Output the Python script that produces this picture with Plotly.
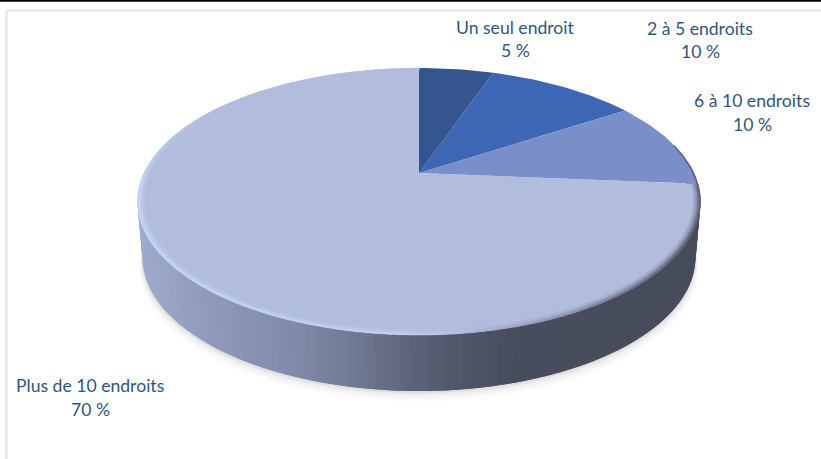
import numpy as np
import plotly.graph_objects as go

labels = ["Un seul endroit", "2 à 5 endroits", "6 à 10 endroits", "Plus de 10 endroits"]
values = [5, 10, 10, 70]
colors = ["#34558f", "#3d66b4", "#7a8fca", "#b2bddd"]

W, H = 821, 459
CX, CY = 419, 173
A, B, K = 127.4, 275.0, 0.2135
DEPTH = 56


def rim(theta, r=1.0, dy=0.0, sx=1.0):
    s, c = np.sin(theta), np.cos(theta)
    w = 1 + K * c * r
    return CX + sx * r * B * s / w, CY - r * A * c / w + dy


def mix(stops, t):
    xs = [p[0] for p in stops]
    return "rgb(%d,%d,%d)" % tuple(
        np.interp(t, xs, [p[1][i] for p in stops]) for i in range(3)
    )


fig = go.Figure()


def poly(x, y, color, opacity=1.0, lw=0.0):
    fig.add_trace(go.Scatter(
        x=list(x), y=list(y), mode="lines", fill="toself", fillcolor=color,
        line=dict(color=color, width=lw), opacity=opacity,
        hoverinfo="skip", showlegend=False,
    ))


full = np.linspace(0, 2 * np.pi, 241)

# soft shadow under the disc
for off, op in [(10, 0.04), (7, 0.06), (4, 0.09), (2, 0.12)]:
    x, y = rim(full, dy=DEPTH + off, sx=0.982 + off / 900)
    poly(x, y, "#8c8c88", op)

# side wall, shaded from left to right (each band overlaps the next one)
wall_stops = [
    (138, (160, 171, 205)), (200, (146, 157, 190)), (300, (128, 138, 168)),
    (360, (112, 122, 146)), (420, (92, 98, 120)), (480, (78, 83, 102)),
    (520, (73, 78, 94)), (700, (71, 76, 90)),
]
edges = np.linspace(np.pi * 0.47, np.pi * 1.53, 131)
step = edges[1] - edges[0]
for a0 in edges[:-1]:
    seg = np.array([a0, a0 + step * 0.5, a0 + step * 2.0])
    seg = seg[seg <= edges[-1] + 1e-9]
    tx, ty = rim(seg)
    bx, by = rim(seg, dy=DEPTH, sx=0.982)
    poly(np.r_[tx, bx[::-1]], np.r_[ty, by[::-1]], mix(wall_stops, tx[0]))

# slices of the top face, with angles taken from the values
shares = np.array(values, dtype=float) / sum(values)
stops = np.r_[0, np.cumsum(shares)] * 2 * np.pi
for a0, a1, col in zip(stops[:-1], stops[1:], colors):
    t = np.linspace(a0, a1, max(int((a1 - a0) * 40), 4))
    x, y = rim(t)
    poly(np.r_[CX, x, CX], np.r_[CY, y, CY], col)

# bevel along the rim: light on the front left, dark on the right
light = (204, 218, 250)
dark = (90, 95, 115)
base = (178, 189, 221)
edges = np.linspace(stops[3], 2 * np.pi, 151)
bands = [(1.0, 0.994, 1.0), (0.994, 0.988, 0.75), (0.988, 0.982, 0.45), (0.982, 0.976, 0.2)]
for a0, a1 in zip(edges[:-1], edges[1:]):
    mid = (a0 + a1) / 2
    deg = np.degrees(mid)
    if deg < 172:
        strength = -np.interp(deg, [94, 125, 150, 172], [1.0, 1.0, 0.6, 0.05])
    else:
        strength = np.interp(deg, [172, 182, 215, 265, 282, 305], [0.1, 0.7, 0.8, 0.9, 0.45, 0.0])
    target = light if strength > 0 else dark
    amount = abs(strength)
    for r0, r1, f in bands:
        c = tuple(base[i] + (target[i] - base[i]) * amount * f for i in range(3))
        seg = np.array([a0, a1 + 0.003])
        ox, oy = rim(seg, r=r0)
        ix, iy = rim(seg, r=r1)
        poly(np.r_[ox, ix[::-1]], np.r_[oy, iy[::-1]], "rgb(%d,%d,%d)" % c, lw=0.5)

# dark edge on the third slice
t = np.linspace(stops[2] + 0.35, stops[3], 30)
x, y = rim(t, r=0.997)
fig.add_trace(go.Scatter(x=x, y=y, mode="lines", line=dict(color="#5d6788", width=1.6),
                         hoverinfo="skip", showlegend=False))

# labels
anchors = [(515, 27, 50), (700, 28, 51), (752, 100, 124), (90, 385, 409)]
TXT = "#2f5680"
ann = []
for lab, val, (ax, y1, y2) in zip(labels, values, anchors):
    for text, yy in ((lab, y1), (f"{val} %", y2)):
        ann.append(dict(x=ax, y=yy, text=text, showarrow=False, xanchor="center",
                        yanchor="middle", font=dict(family="Lato", size=17.6, color=TXT)))

fig.update_layout(
    width=W, height=H, autosize=False,
    margin=dict(l=0, r=0, t=0, b=0),
    paper_bgcolor="white", plot_bgcolor="white",
    showlegend=False,
    xaxis=dict(range=[0, W], visible=False, fixedrange=True),
    yaxis=dict(range=[H, 0], visible=False, fixedrange=True),
    annotations=ann,
    shapes=[
        dict(type="line", xref="x", yref="y", x0=0, x1=W, y0=0.8, y1=0.8,
             line=dict(color="#000000", width=2)),
        dict(type="line", xref="x", yref="y", x0=6.5, x1=W, y0=10.5, y1=10.5,
             line=dict(color="#e3e3e3", width=2)),
        dict(type="line", xref="x", yref="y", x0=6.5, x1=6.5, y0=10.5, y1=H,
             line=dict(color="#e3e3e3", width=2)),
    ],
)
fig.write_html(
    "out.html",
    config=dict(displayModeBar=False),
    post_script="document.body.style.margin='0';document.documentElement.style.overflow='hidden';",
)
